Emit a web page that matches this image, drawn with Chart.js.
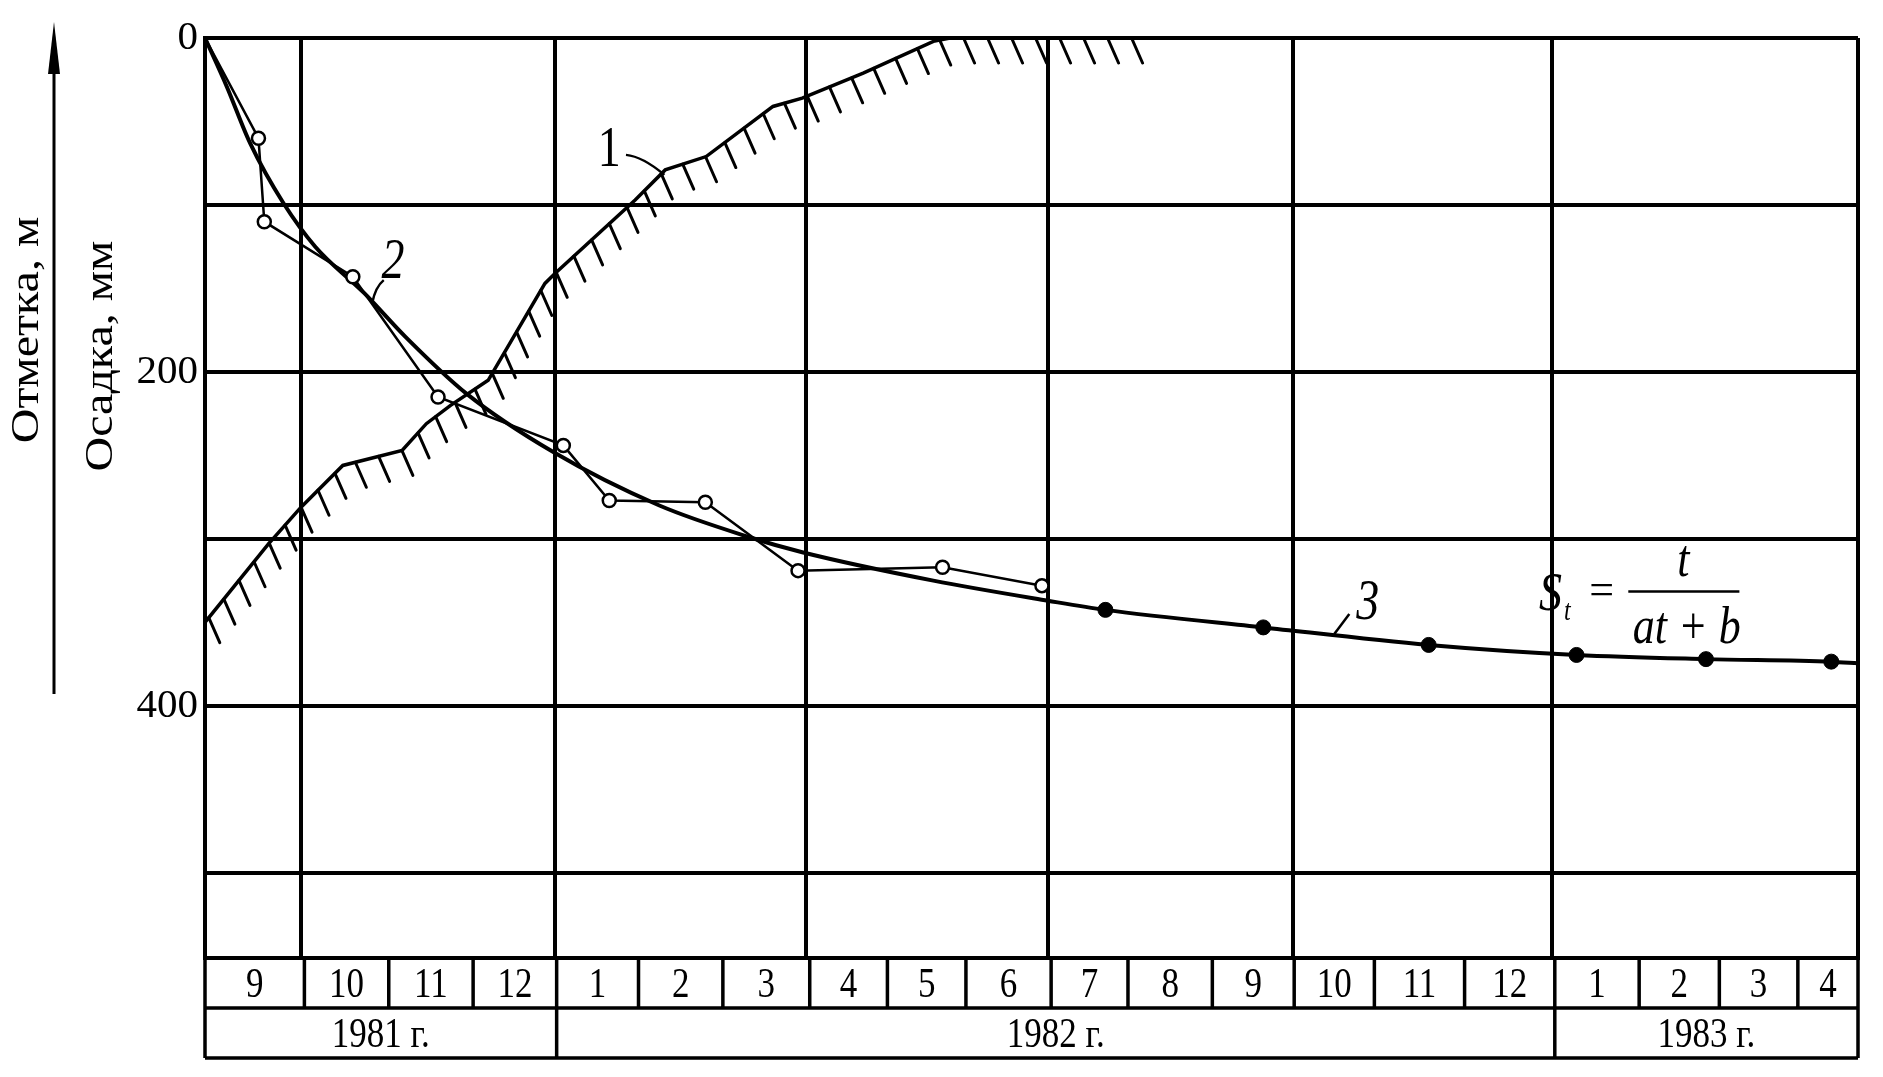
<!DOCTYPE html>
<html>
<head>
<meta charset="utf-8">
<script src="https://cdn.jsdelivr.net/npm/chart.js@4.4.1/dist/chart.umd.min.js"></script>
<style>
  html, body { margin: 0; padding: 0; background: #fff; }
  #wrap { width: 1883px; height: 1077px; position: relative; }
</style>
</head>
<body>
<div id="wrap"><canvas id="settlementChart"></canvas></div>
<script>
// time axis: months counted from 1 Oct 1981 (0), chart starts in Sept 1981
const xStart = -1.12;
const xEnd = 18.67;
const monthLabels = ['9', '10', '11', '12', '1', '2', '3', '4', '5', '6', '7', '8', '9', '10', '11', '12', '1', '2', '3', '4'];
// cell edges as drawn in the table (hand-ruled, slightly uneven)
const monthStarts = [-1.12, 0.07, 1.08, 2.09, 3.09, 4.07, 5.08, 6.12, 7.05, 7.99, 9.01, 9.93, 10.94, 11.92, 12.88, 13.96, 15.04, 16.05, 17.01, 17.95];
const yearLabels = ['1981 г.', '1982 г.', '1983 г.'];
const yearStarts = [-1.12, 3.09, 15.04];
const quarterLines = [0.03, 3.07, 6.07, 8.97, 11.9, 15.01];

// y axis (settlement, mm, downwards)
const yMax = 551;
const yGridValues = [0, 100, 200, 300, 400, 500];
const yTickLabels = [0, 200, 400];

// 1 - ground level (hatched)
const groundX = [-1.12, -0.36, 0.03, 0.53, 1.24, 1.53, 1.82, 2.27, 2.95, 3.07, 4.03, 4.39, 4.88, 5.68, 6.03, 6.76, 7.6, 7.8, 10.1];
const groundY = [350, 303, 281, 256, 247, 231, 220, 205, 147, 141, 97, 79, 71, 41, 36, 21, 2, 0, 0];

// 2 - observed settlement (open circles)
const obsX = [-1.12, -0.48, -0.41, 0.65, 1.67, 3.17, 3.72, 4.87, 5.98, 7.71, 8.90];
const obsY = [0, 60, 110, 143, 215, 244, 277, 278, 319, 317, 328];

// 3 - fitted curve S = t/(at+b)
const fitX = [-1.12, -0.86, -0.58, -0.18, 0.20, 0.79, 1.28, 2.01, 3.05, 4.32, 5.40, 6.03, 7.60, 8.97, 18.67];
const fitY = [0, 29, 63, 99, 125, 153, 179, 213, 248, 280, 299, 308, 325, 337, 374.5];
// 3 - forecast points (filled)
const dotX = [9.66, 11.55, 13.53, 15.30, 16.85, 18.35];
const dotY = [342.5, 353, 363.5, 369.5, 372, 373.5];

const pts = (xs, ys) => xs.map((x, i) => ({ x: x, y: ys[i] }));
const fitPoints = pts(fitX, fitY).concat(pts(dotX, dotY)).sort((a, b) => a.x - b.x);

const serif = "'Liberation Serif', 'DejaVu Serif', serif";
Chart.defaults.font.family = serif;
Chart.defaults.color = '#000';

// the scanned lettering is a little taller than the font, so stretch it
function tallText(ctx, text, x, y, sy) {
  ctx.save();
  ctx.translate(x, y);
  ctx.scale(1, sy);
  ctx.fillText(text, 0, 0);
  ctx.restore();
}

// hatching under curve 1
const hatchPlugin = {
  id: 'hatch',
  afterDatasetsDraw(chart) {
    const meta = chart.getDatasetMeta(0);
    const p = meta.data.map(el => ({ x: el.x, y: el.y }));
    const { ctx, chartArea } = chart;
    ctx.save();
    ctx.beginPath();
    ctx.rect(chartArea.left, chartArea.top, chartArea.width, chartArea.height);
    ctx.clip();
    ctx.strokeStyle = '#000';
    ctx.lineWidth = 3;
    ctx.lineCap = 'round';
    let next = 6, acc = 0;
    for (let i = 1; i < p.length; i++) {
      const a = p[i - 1], b = p[i];
      const len = Math.hypot(b.x - a.x, b.y - a.y);
      while (next <= acc + len) {
        const t = (next - acc) / len;
        const x = a.x + t * (b.x - a.x), y = a.y + t * (b.y - a.y);
        ctx.beginPath();
        ctx.moveTo(x, y);
        ctx.lineTo(x + 11, y + 25);
        ctx.stroke();
        next += 24;
      }
      acc += len;
    }
    ctx.restore();
  }
};

// month / year table under the plot
const tablePlugin = {
  id: 'monthTable',
  afterDraw(chart) {
    const { ctx, chartArea, scales } = chart;
    const xs = scales.x;
    const top = chartArea.bottom, mid = top + 50, bot = top + 100;
    const left = chartArea.left, right = chartArea.right;
    ctx.save();
    ctx.strokeStyle = '#000';
    ctx.lineWidth = 3.5;
    ctx.beginPath();
    ctx.moveTo(left, mid); ctx.lineTo(right, mid);
    ctx.moveTo(left, bot); ctx.lineTo(right, bot);
    ctx.moveTo(left, top); ctx.lineTo(left, bot);
    ctx.moveTo(right, top); ctx.lineTo(right, bot);
    monthStarts.forEach((m, i) => {
      if (i === 0) return;
      const px = xs.getPixelForValue(m);
      ctx.moveTo(px, top); ctx.lineTo(px, mid);
    });
    yearStarts.forEach((m, i) => {
      if (i === 0) return;
      const px = xs.getPixelForValue(m);
      ctx.moveTo(px, mid); ctx.lineTo(px, bot);
    });
    ctx.stroke();

    ctx.fillStyle = '#000';
    ctx.textAlign = 'center';
    ctx.textBaseline = 'middle';
    ctx.font = '35px ' + serif;
    monthLabels.forEach((lbl, i) => {
      const a = xs.getPixelForValue(monthStarts[i]);
      const b = i + 1 < monthStarts.length ? xs.getPixelForValue(monthStarts[i + 1]) : right;
      tallText(ctx, lbl, (a + b) / 2, (top + mid) / 2 + 3, 1.2);
    });
    yearLabels.forEach((lbl, i) => {
      const a = xs.getPixelForValue(yearStarts[i]);
      const b = i + 1 < yearStarts.length ? xs.getPixelForValue(yearStarts[i + 1]) : right;
      tallText(ctx, lbl, (a + b) / 2, (mid + bot) / 2 + 3, 1.2);
    });
    ctx.restore();
  }
};

// axis titles, arrow, curve numbers and formula
const notesPlugin = {
  id: 'notes',
  afterDraw(chart) {
    const { ctx, scales } = chart;
    const X = v => scales.x.getPixelForValue(v);
    const Y = v => scales.y.getPixelForValue(v);
    ctx.save();
    ctx.fillStyle = '#000';
    ctx.strokeStyle = '#000';

    // arrow
    ctx.lineWidth = 3;
    ctx.beginPath();
    ctx.moveTo(54, 694); ctx.lineTo(54, 60);
    ctx.stroke();
    ctx.beginPath();
    ctx.moveTo(54, 22); ctx.lineTo(60, 74); ctx.lineTo(48, 74); ctx.closePath();
    ctx.fill();

    // rotated axis titles
    ctx.font = '40px ' + serif;
    ctx.textAlign = 'center';
    ctx.textBaseline = 'middle';
    [['Отметка, м', 27, 330], ['Осадка, мм', 101, 356]].forEach(([t, x, y]) => {
      ctx.save();
      ctx.translate(x, y);
      ctx.rotate(-Math.PI / 2);
      ctx.scale(1.2, 1);
      ctx.fillText(t, 0, 0);
      ctx.restore();
    });

    // curve numbers with leaders
    ctx.lineWidth = 2.5;
    ctx.font = '46px ' + serif;
    tallText(ctx, '1', X(3.72), Y(68), 1.22);
    ctx.beginPath();
    ctx.moveTo(X(3.92), Y(70));
    ctx.quadraticCurveTo(X(4.12), Y(71), X(4.38), Y(82));
    ctx.stroke();

    ctx.font = 'italic 46px ' + serif;
    tallText(ctx, '2', X(1.13), Y(135), 1.22);
    ctx.beginPath();
    ctx.moveTo(X(1.02), Y(145));
    ctx.quadraticCurveTo(X(0.92), Y(149), X(0.88), Y(159));
    ctx.stroke();

    tallText(ctx, '3', X(12.8), Y(339), 1.22);
    ctx.beginPath();
    ctx.moveTo(X(12.58), Y(345));
    ctx.lineTo(X(12.40), Y(357));
    ctx.stroke();

    // formula S_t = t / (at + b)
    ctx.font = 'italic 46px ' + serif;
    tallText(ctx, 'S', X(14.99), Y(334), 1.2);
    ctx.font = 'italic 24px ' + serif;
    tallText(ctx, 't', X(15.19), Y(344), 1.2);
    ctx.font = '44px ' + serif;
    ctx.fillText('=', X(15.6), Y(332));
    ctx.font = 'italic 44px ' + serif;
    tallText(ctx, 't', X(16.58), Y(314), 1.18);
    tallText(ctx, 'at + b', X(16.62), Y(354), 1.18);
    ctx.lineWidth = 2.5;
    ctx.beginPath();
    ctx.moveTo(X(15.92), Y(331.5));
    ctx.lineTo(X(17.25), Y(331.5));
    ctx.stroke();
    ctx.restore();
  }
};

const ctx = document.getElementById('settlementChart').getContext('2d');
new Chart(ctx, {
  type: 'scatter',
  data: {
    datasets: [
      {
        label: '1',
        data: pts(groundX, groundY),
        showLine: true,
        borderColor: '#000',
        borderWidth: 3.5,
        pointRadius: 0,
        tension: 0
      },
      {
        label: '2',
        data: pts(obsX, obsY),
        showLine: true,
        borderColor: '#000',
        borderWidth: 2.5,
        pointRadius: c => (c.dataIndex === 0 ? 0 : 6.5),
        pointBackgroundColor: '#fff',
        pointBorderColor: '#000',
        pointBorderWidth: 2.5,
        tension: 0
      },
      {
        label: '3',
        data: fitPoints,
        showLine: true,
        borderColor: '#000',
        borderWidth: 4,
        pointRadius: 0,
        cubicInterpolationMode: 'monotone'
      },
      {
        label: '3 points',
        data: pts(dotX, dotY),
        showLine: false,
        pointRadius: 7.5,
        pointBackgroundColor: '#000',
        pointBorderColor: '#000'
      }
    ]
  },
  options: {
    responsive: true,
    maintainAspectRatio: false,
    animation: false,
    layout: { padding: { top: 38, right: 25, left: 0, bottom: 0 } },
    plugins: {
      legend: { display: false },
      tooltip: { enabled: false }
    },
    scales: {
      x: {
        type: 'linear',
        min: xStart,
        max: xEnd,
        afterBuildTicks: s => { s.ticks = [xStart].concat(quarterLines, [xEnd]).map(v => ({ value: v })); },
        afterFit: s => { s.height = 119; },
        ticks: { display: false },
        grid: { color: '#000', lineWidth: 4, drawTicks: false },
        border: { color: '#000', width: 4 }
      },
      y: {
        type: 'linear',
        reverse: true,
        min: 0,
        max: yMax,
        afterBuildTicks: s => { s.ticks = yGridValues.map(v => ({ value: v })); },
        afterFit: s => { s.width = 205; },
        ticks: {
          padding: 7,
          font: { size: 41 },
          color: '#000',
          callback: v => (yTickLabels.includes(v) ? String(v) : '')
        },
        grid: { color: '#000', lineWidth: 4, drawTicks: false },
        border: { color: '#000', width: 4 }
      }
    }
  },
  plugins: [hatchPlugin, tablePlugin, notesPlugin]
});
</script>
</body>
</html>
